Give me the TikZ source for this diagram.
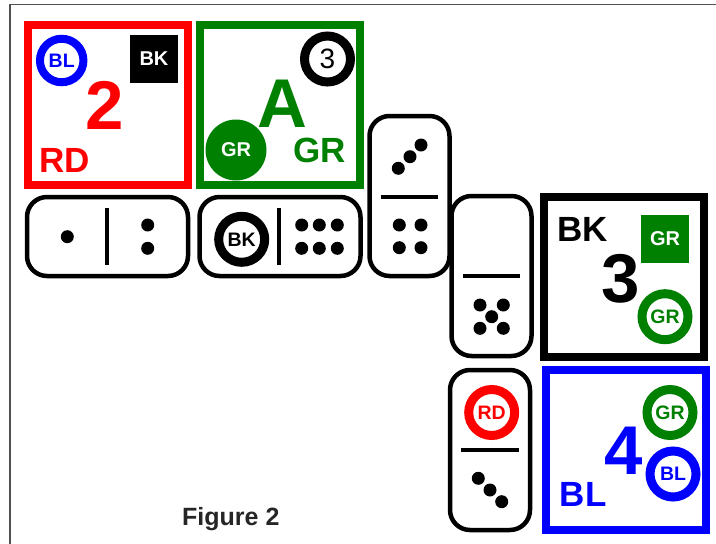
\documentclass[tikz,border=0pt]{standalone}
\usepackage{fontspec}
\setmainfont{Liberation Sans}
\newcommand{\myfs}[1]{\fontsize{#1}{#1}\selectfont}
\definecolor{cgreen}{RGB}{0,128,0}
\definecolor{cframe}{RGB}{80,80,80}
\begin{document}
\begin{tikzpicture}[x=1pt,y=-1pt,
  card/.style={draw, line width=8pt, minimum width=160pt, minimum height=160pt, inner sep=0pt, outer sep=0pt},
  domh/.style={draw, line width=4.5pt, rounded corners=20pt, minimum width=161pt, minimum height=79pt, inner sep=0pt, outer sep=0pt},
  domv/.style={draw, line width=4.5pt, rounded corners=20pt, minimum width=80pt, minimum height=160pt, inner sep=0pt, outer sep=0pt},
  pip/.style={circle, fill=black, minimum size=13pt, inner sep=0pt},
  ring/.style={circle, draw, line width=9pt, minimum size=46pt, inner sep=0pt, font=\myfs{19.5}\bfseries},
  sq/.style={fill=black, minimum size=48pt, inner sep=0pt, text=white, font=\myfs{20}\bfseries},
  big/.style={inner sep=0pt, font=\myfs{69}\bfseries},
  mid/.style={inner sep=0pt, font=\myfs{35}\bfseries},
  divline/.style={line width=4pt},
]
\useasboundingbox (0,0) rectangle (716,544);
\draw[cframe, line width=1.3pt] (10,544) -- (10,4.2) -- (716,4.2);

% red card 2
\node[card, draw=red] (c2) at (108,105) {};
\node[ring, draw=blue, text=blue, line width=8pt, minimum size=43.5pt] (c2bl) at (61.7,60.5) {BL};
\node[sq] (c2bk) at (154,59) {BK};
\node[big, text=red] (c2num) at (104.2,105) {2};
\node[mid, text=red] (c2rd) at (65,160.5) {RD};

% green card A
\node[card, draw=cgreen] (ca) at (280,104.5) {};
\node[ring, draw=black, font=\myfs{28}] (ca3) at (327.5,59) {3};
\node[big, text=cgreen] (canum) at (282.5,104) {A};
\node[circle, fill=cgreen, minimum size=61pt, inner sep=0pt, text=white, font=\myfs{20}\bfseries] (cagr) at (236,150) {GR};
\node[mid, text=cgreen] (cagrt) at (320,150.5) {GR};

% black card 3
\node[card, draw=black] (c3) at (624,276.5) {};
\node[mid, text=black] (c3bk) at (582.5,229.7) {BK};
\node[sq, fill=cgreen] (c3gr) at (665,239) {GR};
\node[big, text=black] (c3num) at (620.8,278.3) {3};
\node[ring, draw=cgreen, text=cgreen] (c3ring) at (665,316.7) {GR};

% blue card 4
\node[card, draw=blue] (c4) at (626,450) {};
\node[ring, draw=cgreen, text=cgreen] (c4gr) at (670,412.5) {GR};
\node[big, text=blue] (c4num) at (623.3,450.8) {4};
\node[ring, draw=blue, text=blue] (c4bl) at (673,474) {BL};
\node[mid, text=blue] (c4blt) at (583.3,494.2) {BL};

% domino 1 : 1 | 2
\node[domh] (d1) at (107.5,236.5) {};
\draw[divline] (107.3,208) -- (107.3,265);
\node[pip] (d1p1) at (67.3,236.7) {};
\node[pip] (d1p2) at (147.7,225) {};
\node[pip] (d1p3) at (147.7,248.3) {};

% domino 2 : BK | 6
\node[domh] (d2) at (280,236.5) {};
\draw[divline] (279.3,208) -- (279.3,265);
\node[ring, draw=black, text=black] (d2bk) at (241.7,239.3) {BK};
\node[pip] (d2p1) at (301.7,225) {};
\node[pip] (d2p2) at (319.3,225) {};
\node[pip] (d2p3) at (337.3,225) {};
\node[pip] (d2p4) at (301.7,248.3) {};
\node[pip] (d2p5) at (319.3,248.3) {};
\node[pip] (d2p6) at (337.3,248.3) {};

% domino 3 : 3 / 4
\node[domv] (d3) at (409.5,196) {};
\draw[divline] (380.7,196.7) -- (438.3,196.7);
\node[pip] (d3p1) at (398.3,168.3) {};
\node[pip] (d3p2) at (410,156.7) {};
\node[pip] (d3p3) at (421,145) {};
\node[pip] (d3p4) at (399.3,225) {};
\node[pip] (d3p5) at (421,225) {};
\node[pip] (d3p6) at (399.3,247.7) {};
\node[pip] (d3p7) at (421,247.7) {};

% domino 4 : blank / 5
\node[domv] (d4) at (491.5,276) {};
\draw[divline] (463.3,276) -- (520,276);
\node[pip] (d4p1) at (480,305) {};
\node[pip] (d4p2) at (503.3,305) {};
\node[pip] (d4p3) at (491.7,316.7) {};
\node[pip] (d4p4) at (480,328.3) {};
\node[pip] (d4p5) at (503.3,328.3) {};

% domino 5 : RD / 3
\node[domv] (d5) at (490,450) {};
\draw[divline] (461,450) -- (519,450);
\node[ring, draw=red, text=red] (d5rd) at (491.7,412.5) {RD};
\node[pip] (d5p1) at (478.3,478.3) {};
\node[pip] (d5p2) at (490,490) {};
\node[pip] (d5p3) at (501.7,501.7) {};

\node[anchor=base, inner sep=0pt, font=\myfs{25}\bfseries, text=black!85] (fig) at (230.8,525) {Figure 2};
\end{tikzpicture}
\end{document}
